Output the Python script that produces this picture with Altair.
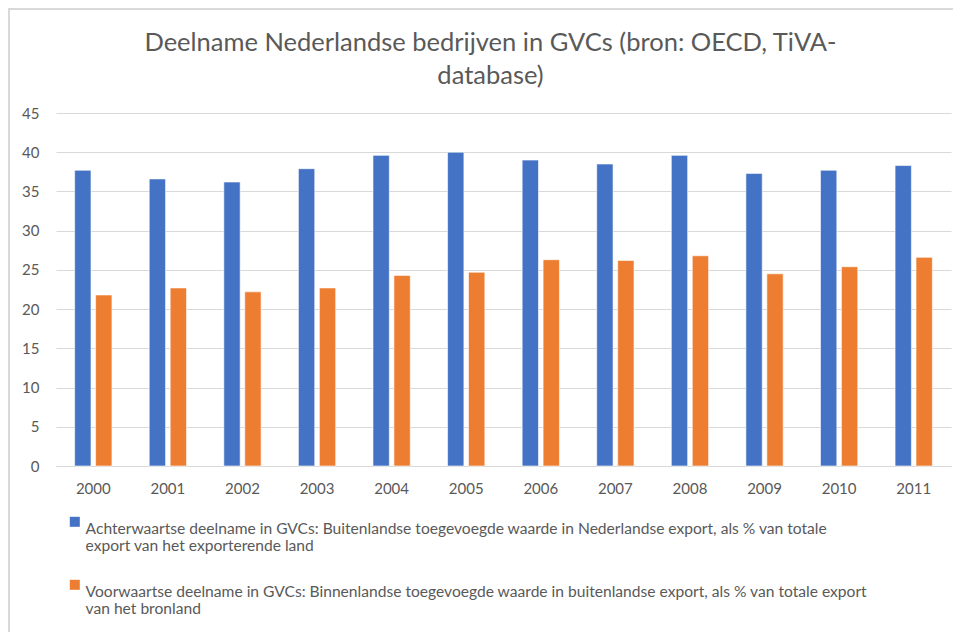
import altair as alt
import pandas as pd

years = [str(y) for y in range(2000, 2012)]
series_names = [
    "Achterwaartse deelname in GVCs: Buitenlandse toegevoegde waarde in Nederlandse export, als % van totale\nexport van het exporterende land",
    "Voorwaartse deelname in GVCs: Binnenlandse toegevoegde waarde in buitenlandse export, als % van totale export\nvan het bronland",
]
backward = [37.7, 36.6, 36.2, 37.9, 39.6, 40.0, 39.0, 38.5, 39.6, 37.3, 37.7, 38.3]
forward = [21.8, 22.7, 22.2, 22.7, 24.3, 24.7, 26.3, 26.2, 26.8, 24.5, 25.4, 26.6]
colors = ["#4472C4", "#ED7D31"]

rows = []
for i, y in enumerate(years):
    rows.append({"jaar": y, "reeks": series_names[0], "waarde": backward[i]})
    rows.append({"jaar": y, "reeks": series_names[1], "waarde": forward[i]})
df = pd.DataFrame(rows)

FONT = "Lato"
GREY = "#595959"

bars = (
    alt.Chart(df)
    .mark_bar(stroke="white", strokeWidth=0.6)
    .encode(
        x=alt.X(
            "jaar:N",
            sort=years,
            title=None,
            scale=alt.Scale(paddingInner=0.5, paddingOuter=0.25),
            axis=alt.Axis(
                labelAngle=0,
                ticks=False,
                domainColor="#d9d9d9",
                domainWidth=1,
                labelFont=FONT,
                labelFontSize=15,
                labelColor=GREY,
                labelPadding=15,
                grid=False,
            ),
        ),
        xOffset=alt.XOffset(
            "reeks:N", sort=series_names, scale=alt.Scale(paddingInner=0.22, paddingOuter=0)
        ),
        y=alt.Y(
            "waarde:Q",
            title=None,
            scale=alt.Scale(domain=[0, 45], nice=False),
            axis=alt.Axis(
                values=list(range(0, 50, 5)),
                ticks=False,
                domain=False,
                gridColor="#d9d9d9",
                gridWidth=1,
                labelFont=FONT,
                labelFontSize=15,
                labelColor=GREY,
                labelPadding=17,
            ),
        ),
        color=alt.Color(
            "reeks:N",
            sort=series_names,
            scale=alt.Scale(domain=series_names, range=colors),
            legend=alt.Legend(
                title=None,
                orient="none",
                legendX=11,
                legendY=401,
                direction="vertical",
                symbolType="square",
                symbolSize=100,
                symbolStrokeWidth=0,
                labelExpr="split(datum.label, '\\n')",
                labelLimit=0,
                labelFont=FONT,
                labelFontSize=15.6,
                labelColor=GREY,
                labelOffset=3,
                rowPadding=22,
                labelBaseline="top",
            ),
        ),
    )
)

# decorative chart border (top and left edges)
border_top = alt.Chart(df).mark_rule(color="#d9d9d9", strokeWidth=2).encode(
    x=alt.value(-48), x2=alt.value(900), y=alt.value(-104)
)
border_left = alt.Chart(df).mark_rule(color="#d9d9d9", strokeWidth=2).encode(
    x=alt.value(-47), y=alt.value(-105), y2=alt.value(520)
)

chart = (
    alt.layer(border_top, border_left, bars)
    .properties(
        width=895,
        height=353,
        autosize=alt.AutoSizeParams(type="none"),
        padding={"left": 48, "top": 105, "right": 2, "bottom": 166},
        title=alt.Title(
            ["Deelname Nederlandse bedrijven in GVCs (bron: OECD, TiVA-", "database)"],
            font=FONT,
            fontSize=25.5,
            fontWeight="normal",
            color=GREY,
            lineHeight=33,
            anchor="middle",
            dx=-13,
            dy=102,
            offset=20,
        ),
    )
    .configure_view(stroke=None)
)

chart.save("out.html", embed_options={"renderer": "svg", "actions": False})
